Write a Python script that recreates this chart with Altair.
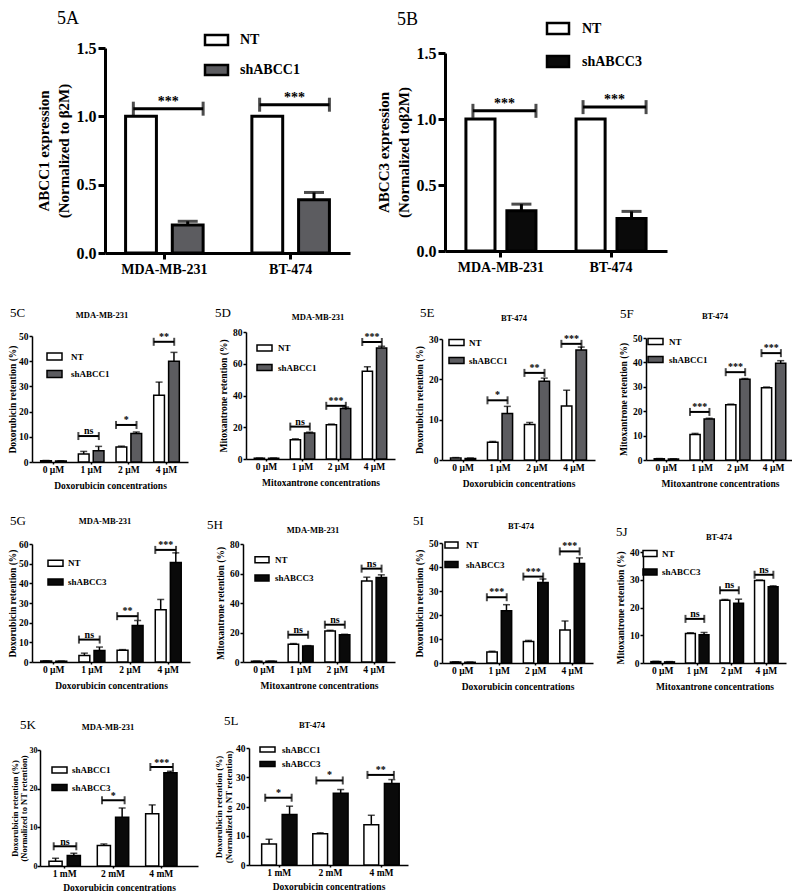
import math
import altair as alt
import pandas as pd

SERIF = "Liberation Serif"
PAD = 8          # chart padding (left/top)
O = 8 + PAD      # page margin + padding: reference pixel -> plot pixel
W, H = 776, 878

# ---------------- categories ----------------
CELLS = ["MDA-MB-231", "BT-474"]
UM = ["0 µM", "1 µM", "2 µM", "4 µM"]
MM = ["1 mM", "2 mM", "4 mM"]
GROUPS_1 = ["NT", "shABCC1"]
GROUPS_3 = ["NT", "shABCC3"]
GROUPS_K = ["shABCC1", "shABCC3"]

# ---------------- values ----------------
# 5A ABCC1 expression
A_NT, A_NT_ERR = [1.0, 1.0], [0.0, 0.0]
A_SH, A_SH_ERR = [0.205, 0.39], [0.027, 0.053]
A_BR_Y, A_BR_TXT = [1.056, 1.085], ["***", "***"]
# 5B ABCC3 expression
B_NT, B_NT_ERR = [1.0, 1.0], [0.0, 0.0]
B_SH, B_SH_ERR = [0.304, 0.246], [0.051, 0.054]
B_BR_Y, B_BR_TXT = [1.062, 1.09], ["***", "***"]
# 5C MDA-MB-231 doxorubicin, shABCC1
C_NT, C_NT_ERR = [0.5, 3.2, 6.0, 26.5], [0.1, 1.0, 0.3, 5.2]
C_SH, C_SH_ERR = [0.4, 4.5, 11.3, 40.0], [0.1, 1.7, 0.6, 3.5]
C_BR_Y, C_BR_TXT = [None, 10.3, 14.7, 47.7], [None, "ns", "*", "**"]
# 5D MDA-MB-231 mitoxantrone, shABCC1
D_NT, D_NT_ERR = [0.5, 12.2, 21.5, 55.3], [0.1, 0.5, 0.5, 2.8]
D_SH, D_SH_ERR = [0.5, 16.3, 31.8, 70.0], [0.1, 0.6, 0.9, 1.0]
D_BR_Y, D_BR_TXT = [None, 20.4, 33.5, 73.7], [None, "ns", "***", "***"]
# 5E BT-474 doxorubicin, shABCC1
E_NT, E_NT_ERR = [0.5, 4.4, 8.8, 13.4], [0.1, 0.2, 0.5, 3.9]
E_SH, E_SH_ERR = [0.4, 11.5, 19.5, 27.3], [0.1, 1.8, 0.8, 0.7]
E_BR_Y, E_BR_TXT = [None, 14.8, 21.6, 28.8], [None, "*", "**", "***"]
# 5F BT-474 mitoxantrone, shABCC1
F_NT, F_NT_ERR = [0.5, 10.5, 22.6, 29.6], [0.1, 0.4, 0.3, 0.3]
F_SH, F_SH_ERR = [0.4, 16.8, 33.1, 39.7], [0.1, 0.3, 0.3, 1.0]
F_BR_Y, F_BR_TXT = [None, 19.7, 36.0, 43.8], [None, "***", "***", "***"]
# 5G MDA-MB-231 doxorubicin, shABCC3
G_NT, G_NT_ERR = [0.5, 3.3, 6.0, 26.6], [0.1, 1.2, 0.3, 5.2]
G_SH, G_SH_ERR = [0.4, 5.9, 18.6, 50.6], [0.1, 1.7, 2.5, 4.9]
G_BR_Y, G_BR_TXT = [None, 11.4, 23.3, 57.0], [None, "ns", "**", "***"]
# 5H MDA-MB-231 mitoxantrone, shABCC3
H_NT, H_NT_ERR = [0.5, 12.0, 21.0, 55.0], [0.1, 0.5, 0.5, 2.5]
H_SH, H_SH_ERR = [0.5, 10.8, 18.5, 57.3], [0.1, 0.3, 0.3, 1.8]
H_BR_Y, H_BR_TXT = [None, 18.5, 25.3, 63.3], [None, "ns", "ns", "ns"]
# 5I BT-474 doxorubicin, shABCC3
I_NT, I_NT_ERR = [0.4, 4.6, 9.0, 13.8], [0.1, 0.3, 0.4, 3.7]
I_SH, I_SH_ERR = [0.3, 21.8, 33.5, 41.5], [0.1, 2.5, 1.5, 2.3]
I_BR_Y, I_BR_TXT = [None, 27.4, 36.0, 46.5], [None, "***", "***", "***"]
# 5J BT-474 mitoxantrone, shABCC3
J_NT, J_NT_ERR = [0.5, 10.6, 22.6, 29.7], [0.1, 0.3, 0.3, 0.2]
J_SH, J_SH_ERR = [0.4, 10.2, 21.5, 27.5], [0.1, 0.8, 1.5, 0.3]
J_BR_Y, J_BR_TXT = [None, 15.9, 26.2, 31.8], [None, "ns", "ns", "ns"]
# 5K MDA-MB-231 shABCC1 vs shABCC3
K_S1, K_S1_ERR = [1.2, 5.3, 13.5], [0.8, 0.4, 2.3]
K_S3, K_S3_ERR = [2.7, 12.6, 24.1], [0.6, 2.4, 0.4]
K_BR_Y, K_BR_TXT = [5.1, 17.0, 25.6], ["ns", "*", "***"]
# 5L BT-474 shABCC1 vs shABCC3
L_S1, L_S1_ERR = [7.2, 10.7, 13.8], [1.6, 0.3, 3.2]
L_S3, L_S3_ERR = [17.3, 24.5, 27.9], [2.8, 1.3, 1.3]
L_BR_Y, L_BR_TXT = [23.0, 28.9, 30.8], ["*", "*", "**"]

WHITE, GRAY, BLACK = "white", "#5c5c60", "#0a0a0a"

# ---------------- styles ----------------
BIG = dict(bar_sw=3, err_w=3, cap=20, br_w=3, br_cap=14, star_size=14, star_dy=-3,
           ylab=16, xlab=14, ytitle=15, ytitle_lh=20, xtitle=14, leg=14, leg_sw=2.5,
           dom_w=3, tick_w=3, ytick=7, xtick=6, ylabpad=2, xlabpad=3, ytitlepad=5, xtitlepad=6,
           lab_size=18, title_size=14)
SMALL = dict(bar_sw=1.5, err_w=1.5, cap=7, br_w=2, br_cap=8, star_size=10, star_dy=-2,
             ylab=9.5, xlab=9.5, ytitle=9.5, ytitle_lh=10.5, xtitle=9.5, leg=9, leg_sw=1.5,
             dom_w=1.5, tick_w=1.5, ytick=3, xtick=2, ylabpad=1, xlabpad=0, ytitlepad=4, xtitlepad=7,
             lab_size=13, title_size=8.5)

DOX_T, MIT_T = "Doxorubicin concentrations", "Mitoxantrone concentrations"
DOX_R, MIT_R = "Doxorubicin retention (%)", "Mitoxantrone retention (%)"
NORM_R = ["Doxorubicin retention (%)", "(Normalized to NT retention)"]
SM4 = dict(pi=0.32, po=0.23, pio=0.28, b0=0.0, b1=0.8, yfmt="d")

PANELS = [
    dict(S=BIG, cats=CELLS, groups=GROUPS_1, fills=[WHITE, GRAY], a=A_NT, ae=A_NT_ERR, b=A_SH, be=A_SH_ERR,
         br_y=A_BR_Y, br_t=A_BR_TXT, x0=105, x1=350, y0=48, y1=253, ymax=1.5, yticks=[0, 0.5, 1.0, 1.5],
         yfmt=".1f", pi=0.386, po=0.163, pio=0.34, b0=0.1, b1=1.0,
         ytitle=["ABCC1 expression", "(Normalized to β2M)"], xtitle=None,
         leg=(205, 40, 22, 240, 23, 10), lab=("5A", 57, 19), title=None),
    dict(S=BIG, cats=CELLS, groups=GROUPS_3, fills=[WHITE, BLACK], a=B_NT, ae=B_NT_ERR, b=B_SH, be=B_SH_ERR,
         br_y=B_BR_Y, br_t=B_BR_TXT, x0=445, x1=667, y0=53, y1=251, ymax=1.5, yticks=[0, 0.5, 1.0, 1.5],
         yfmt=".1f", pi=0.364, po=0.19, pio=0.29, b0=0.1, b1=1.0,
         ytitle=["ABCC3 expression", "(Normalized toβ2M)"], xtitle=None,
         leg=(547, 28.5, 25, 582, 22, 11), lab=("5B", 397, 20), title=None),
    dict(S=SMALL, cats=UM, groups=GROUPS_1, fills=[WHITE, GRAY], a=C_NT, ae=C_NT_ERR, b=C_SH, be=C_SH_ERR,
         br_y=C_BR_Y, br_t=C_BR_TXT, x0=32, x1=188, y0=336, y1=462, ymax=50, yticks=[0, 10, 20, 30, 40, 50],
         ytitle=DOX_R, xtitle=DOX_T, leg=(47, 356.5, 13.5, 71, 15, 7), lab=("5C", 10, 313),
         title=("MDA-MB-231", 102, 315), ytitlepad=1, **SM4),
    dict(S=SMALL, cats=UM, groups=GROUPS_1, fills=[WHITE, GRAY], a=D_NT, ae=D_NT_ERR, b=D_SH, be=D_SH_ERR,
         br_y=D_BR_Y, br_t=D_BR_TXT, x0=246, x1=395, y0=332, y1=459, ymax=80, yticks=[0, 20, 40, 60, 80],
         ytitle=MIT_R, xtitle=MIT_T, leg=(257, 348, 15.5, 278, 15, 6), lab=("5D", 215, 313),
         title=("MDA-MB-231", 318, 317), **SM4),
    dict(S=SMALL, cats=UM, groups=GROUPS_1, fills=[WHITE, GRAY], a=E_NT, ae=E_NT_ERR, b=E_SH, be=E_SH_ERR,
         br_y=E_BR_Y, br_t=E_BR_TXT, x0=442, x1=595, y0=339, y1=460, ymax=30, yticks=[0, 10, 20, 30],
         ytitle=DOX_R, xtitle=DOX_T, leg=(449, 342.5, 14, 469, 15, 6), lab=("5E", 420, 313),
         title=("BT-474", 514, 318), **SM4),
    dict(S=SMALL, cats=UM, groups=GROUPS_1, fills=[WHITE, GRAY], a=F_NT, ae=F_NT_ERR, b=F_SH, be=F_SH_ERR,
         br_y=F_BR_Y, br_t=F_BR_TXT, x0=646, x1=794, y0=338, y1=460, ymax=50, yticks=[0, 10, 20, 30, 40, 50],
         ytitle=MIT_R, xtitle=MIT_T, leg=(648, 341.5, 14, 669, 15, 6), lab=("5F", 620, 314),
         title=("BT-474", 715, 316), **SM4),
    dict(S=SMALL, cats=UM, groups=GROUPS_3, fills=[WHITE, BLACK], a=G_NT, ae=G_NT_ERR, b=G_SH, be=G_SH_ERR,
         br_y=G_BR_Y, br_t=G_BR_TXT, x0=32, x1=190, y0=544, y1=662, ymax=60, yticks=[0, 10, 20, 30, 40, 50, 60],
         ytitle=DOX_R, xtitle=DOX_T, leg=(48, 563.3, 14.7, 68, 15, 6), lab=("5G", 10, 521),
         title=("MDA-MB-231", 105, 521), ytitlepad=1, **SM4),
    dict(S=SMALL, cats=UM, groups=GROUPS_3, fills=[WHITE, BLACK], a=H_NT, ae=H_NT_ERR, b=H_SH, be=H_SH_ERR,
         br_y=H_BR_Y, br_t=H_BR_TXT, x0=243, x1=395, y0=544, y1=662, ymax=80, yticks=[0, 20, 40, 60, 80],
         ytitle=MIT_R, xtitle=MIT_T, leg=(255, 559.7, 14.3, 275, 14, 6), lab=("5H", 207, 525),
         title=("MDA-MB-231", 313, 530), **SM4),
    dict(S=SMALL, cats=UM, groups=GROUPS_3, fills=[WHITE, BLACK], a=I_NT, ae=I_NT_ERR, b=I_SH, be=I_SH_ERR,
         br_y=I_BR_Y, br_t=I_BR_TXT, x0=442, x1=593, y0=543, y1=663, ymax=50, yticks=[0, 10, 20, 30, 40, 50],
         ytitle=DOX_R, xtitle=DOX_T, leg=(445, 545, 15.5, 466, 13, 6), lab=("5I", 413, 521),
         title=("BT-474", 521, 526), **SM4),
    dict(S=SMALL, cats=UM, groups=GROUPS_3, fills=[WHITE, BLACK], a=J_NT, ae=J_NT_ERR, b=J_SH, be=J_SH_ERR,
         br_y=J_BR_Y, br_t=J_BR_TXT, x0=643, x1=786, y0=552, y1=663, ymax=40, yticks=[0, 10, 20, 30, 40],
         ytitle=MIT_R, xtitle=MIT_T, leg=(643, 553.5, 14.5, 662, 14, 6), lab=("5J", 616, 532),
         title=("BT-474", 719, 537), **SM4),
    dict(S=SMALL, cats=MM, groups=GROUPS_K, fills=[WHITE, BLACK], a=K_S1, ae=K_S1_ERR, b=K_S3, be=K_S3_ERR,
         br_y=K_BR_Y, br_t=K_BR_TXT, x0=40, x1=198, y0=750, y1=866, ymax=30, yticks=[0, 10, 20, 30],
         yfmt="d", pi=0.35, po=0.31, align=0.3, pio=0.28, b0=0.15, b1=0.87,
         ytitle=NORM_R, xtitle=DOX_T, leg=(52, 770, 13.5, 72, 15, 6), lab=("5K", 20, 725),
         title=("MDA-MB-231", 108, 727), ytitlepad=1, ytitle_size=8.5, ytitle_lh=9, ylab=8, ylabpad=0,
         xtitlepad=5, star_dy=-1),
    dict(S=SMALL, cats=MM, groups=GROUPS_K, fills=[WHITE, BLACK], a=L_S1, ae=L_S1_ERR, b=L_S3, be=L_S3_ERR,
         br_y=L_BR_Y, br_t=L_BR_TXT, x0=249, x1=408, y0=748, y1=865, ymax=40, yticks=[0, 10, 20, 30, 40],
         yfmt="d", pi=0.31, po=0.21, align=0.59, pio=0.28, b0=0.1, b1=0.85,
         ytitle=NORM_R, xtitle=DOX_T, leg=(260, 749.5, 10.5, 282, 15, 5), lab=("5L", 224, 721),
         title=("BT-474", 312, 725), ytitlepad=2, ytitle_size=9, ytitle_lh=10, xtitlepad=5),
]


def panel(P):
    S = dict(P["S"])
    for key in ("ytitlepad", "ylab", "ylabpad", "xtitlepad", "star_dy"):
        if key in P:
            S[key] = P[key]
    if "ytitle_size" in P:
        S["ytitle"] = P["ytitle_size"]
    if "ytitle_lh" in P:
        S["ytitle_lh"] = P["ytitle_lh"]
    cats, groups = P["cats"], P["groups"]
    rows = []
    for g, vals, errs in ((groups[0], P["a"], P["ae"]), (groups[1], P["b"], P["be"])):
        for c, v, e in zip(cats, vals, errs):
            rows.append({"cat": c, "group": g, "value": v, "err": e, "upper": v + e})
    df = pd.DataFrame(rows)
    br = pd.DataFrame([{"cat": c, "y": y, "label": t}
                       for c, y, t in zip(cats, P["br_y"], P["br_t"]) if y is not None])

    xs = alt.Scale(domain=cats, range=[P["x0"] - O, P["x1"] - O], paddingInner=P["pi"],
                   paddingOuter=P["po"], align=P.get("align", 0.5))
    ys = alt.Scale(domain=[0, P["ymax"]], range=[P["y1"] - O, P["y0"] - O], nice=False, zero=True)
    xos = alt.Scale(domain=groups, paddingInner=P["pio"], paddingOuter=0)
    fs = alt.Scale(domain=groups, range=P["fills"])

    bx, by0, dy, lx, sw_, sh_ = P["leg"]
    E = max(math.ceil(sw_ / 2 + S["leg_sw"]), S["leg"])
    legX = bx + sw_ / 2 - E / 2 - O
    legY = by0 - E / 2 - O
    k = 2 * sh_ / sw_
    legend = alt.Legend(orient="none", legendX=legX, legendY=legY, title=None,
                        symbolType=f"M-2,-{k:.3f}H2V{k:.3f}H-2Z", symbolSize=(sw_ / 2) ** 2,
                        symbolStrokeColor="black", symbolStrokeWidth=S["leg_sw"], symbolOpacity=1,
                        rowPadding=dy - E, labelOffset=lx - (legX + O) - E, labelFontSize=S["leg"],
                        labelFont=SERIF, labelFontWeight="bold", labelColor="black", padding=0)

    yaxis = alt.Axis(orient="left", offset=-(P["x0"] - O), values=P["yticks"], format=P["yfmt"],
                     title=P["ytitle"], labelFontSize=S["ylab"], titleFontSize=S["ytitle"],
                     titleLineHeight=S["ytitle_lh"], domainWidth=S["dom_w"], tickWidth=S["tick_w"],
                     tickSize=S["ytick"], labelPadding=S["ylabpad"], titlePadding=S["ytitlepad"])
    xaxis = alt.Axis(orient="bottom", offset=(P["y1"] - O) - H, title=P["xtitle"], labelAngle=0,
                     labelFontSize=S["xlab"], titleFontSize=S["xtitle"], domainWidth=S["dom_w"],
                     tickWidth=S["tick_w"], tickSize=S["xtick"], labelPadding=S["xlabpad"],
                     titlePadding=S["xtitlepad"])

    X = alt.X("cat:N", scale=xs)
    XO = alt.XOffset("group:N", scale=xos)
    base = alt.Chart(df)
    bars = base.mark_bar(stroke="black", strokeWidth=S["bar_sw"]).encode(
        x=alt.X("cat:N", scale=xs, axis=xaxis),
        xOffset=XO,
        y=alt.Y("value:Q", scale=ys, axis=yaxis),
        fill=alt.Fill("group:N", scale=fs, legend=legend),
    )
    eb = base.transform_filter("datum.err > 0")
    err = eb.mark_rule(color="black", strokeWidth=S["err_w"]).encode(
        x=X, xOffset=XO, y=alt.Y("value:Q", scale=ys), y2="upper:Q",
    )
    caps = eb.mark_tick(color="black", orient="horizontal", size=S["cap"], thickness=S["err_w"]).encode(
        x=X, xOffset=XO, y=alt.Y("upper:Q", scale=ys),
    )
    bb = alt.Chart(br)
    bline = bb.mark_rule(color="black", strokeWidth=S["br_w"]).encode(
        x=alt.X("cat:N", scale=xs, bandPosition=P["b0"]),
        x2=alt.X2("cat:N", bandPosition=P["b1"]),
        y=alt.Y("y:Q", scale=ys),
    )
    ends = [bb.mark_tick(color="black", orient="vertical", size=S["br_cap"], thickness=S["br_w"]).encode(
        x=alt.X("cat:N", scale=xs, bandPosition=bp),
        y=alt.Y("y:Q", scale=ys)) for bp in (P["b0"], P["b1"])]
    stars = bb.mark_text(font=SERIF, fontWeight="bold", fontSize=S["star_size"], baseline="alphabetic",
                         dy=S["star_dy"], color="black").encode(
        x=alt.X("cat:N", scale=xs, bandPosition=(P["b0"] + P["b1"]) / 2),
        y=alt.Y("y:Q", scale=ys),
        text="label:N",
    )
    layers = [bars, err, caps, bline] + ends + [stars]
    lab, lx_, ly_ = P["lab"]
    layers.append(alt.Chart(pd.DataFrame({"t": [lab]})).mark_text(
        font=SERIF, fontSize=S["lab_size"], align="left", baseline="middle", color="black",
        x=lx_ - O, y=ly_ - O).encode(text="t:N"))
    if P["title"]:
        tt, tx, ty = P["title"]
        layers.append(alt.Chart(pd.DataFrame({"t": [tt]})).mark_text(
            font=SERIF, fontSize=S["title_size"], fontWeight="bold", align="center", baseline="middle",
            color="black", x=tx - O, y=ty - O).encode(text="t:N"))
    return alt.layer(*layers)


chart = alt.layer(*[panel(P) for P in PANELS]).resolve_scale(
    x="independent", y="independent", xOffset="independent", fill="independent"
).resolve_axis(x="independent", y="independent").resolve_legend(fill="independent").properties(
    width=W, height=H, autosize=alt.AutoSizeParams(type="none"),
    padding={"left": PAD, "top": PAD, "right": 0, "bottom": 0}
).configure_view(stroke=None).configure_axis(
    labelFont=SERIF, titleFont=SERIF, labelFontWeight="bold", titleFontWeight="bold",
    labelColor="black", titleColor="black", domainColor="black", tickColor="black", grid=False
)

chart.save("out.html", embed_options={"renderer": "svg", "actions": False})
